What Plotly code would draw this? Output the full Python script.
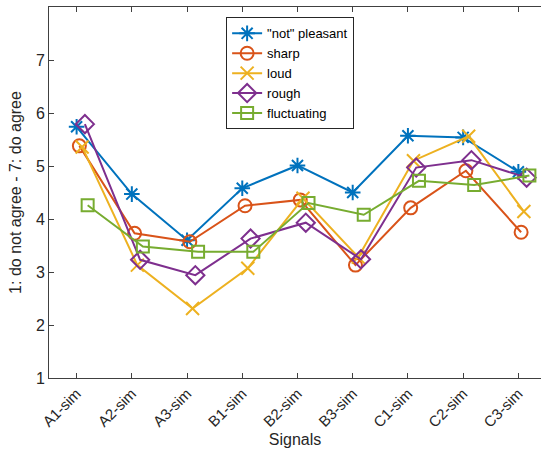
import plotly.graph_objects as go

signals = ["A1-sim", "A2-sim", "A3-sim", "B1-sim", "B2-sim", "B3-sim", "C1-sim", "C2-sim", "C3-sim"]
series_names = ['"not" pleasant', "sharp", "loud", "rough", "fluctuating"]

not_pleasant = [5.74, 4.47, 3.60, 4.58, 5.01, 4.50, 5.57, 5.54, 4.89]
sharp = [5.38, 3.73, 3.57, 4.25, 4.36, 3.13, 4.21, 4.91, 3.75]
loud = [5.36, 3.13, 2.31, 3.07, 4.39, 3.28, 5.10, 5.56, 4.14]
rough = [5.79, 3.23, 2.94, 3.63, 3.93, 3.24, 4.97, 5.11, 4.78]
fluctuating = [4.26, 3.48, 3.38, 3.38, 4.30, 4.08, 4.72, 4.64, 4.82]

offsets = [0.0, 0.05, 0.1, 0.15, 0.2]
colors = ["#0072BD", "#D95319", "#EDB120", "#7E2F8E", "#77AC30"]
symbols = ["asterisk-open", "circle-open", "x-thin-open", "diamond-open", "square-open"]
sizes = [13, 13, 13, 14, 12]

all_series = [not_pleasant, sharp, loud, rough, fluctuating]

fig = go.Figure()
for name, vals, off, col, sym, sz in zip(series_names, all_series, offsets, colors, symbols, sizes):
    xs = [i + 1 + off for i in range(len(signals))]
    fig.add_trace(go.Scatter(
        x=xs, y=vals, name=name, mode="lines+markers",
        line=dict(color=col, width=2),
        marker=dict(symbol=sym, size=sz, color=col, line=dict(color=col, width=2)),
    ))

axis_color = "#404040"
font_family = "Liberation Sans, Arial, Helvetica, sans-serif"

fig.update_layout(
    width=541, height=455,
    margin=dict(l=49, r=0, t=7, b=77),
    paper_bgcolor="white", plot_bgcolor="white",
    font=dict(family=font_family, color="#262626", size=14),
    showlegend=True,
    legend=dict(
        x=0.36, y=0.972, xanchor="left", yanchor="top",
        bgcolor="white", bordercolor="#262626", borderwidth=1,
        font=dict(size=13, color="#000000"),
        tracegroupgap=0, itemwidth=30,
    ),
    xaxis=dict(
        range=[0.5, 9.41], tickmode="array",
        tickvals=list(range(1, len(signals) + 1)), ticktext=signals,
        tickangle=-45, ticks="inside", ticklen=5, tickcolor=axis_color,
        showline=True, linecolor=axis_color, linewidth=1, mirror="ticks",
        showgrid=False, zeroline=False,
        tickfont=dict(size=15, color="#262626"),
        title=dict(text="Signals", font=dict(size=16, color="#262626"), standoff=4),
    ),
    yaxis=dict(
        range=[1, 8], tickmode="array", tickvals=[1, 2, 3, 4, 5, 6, 7],
        ticks="inside", ticklen=5, tickcolor=axis_color,
        showline=True, linecolor=axis_color, linewidth=1,
        showgrid=False, zeroline=False,
        tickfont=dict(size=16, color="#262626"),
        title=dict(text="1: do not agree - 7: do agree", font=dict(size=16, color="#262626"), standoff=10),
    ),
)

fig.write_html("out.html")
